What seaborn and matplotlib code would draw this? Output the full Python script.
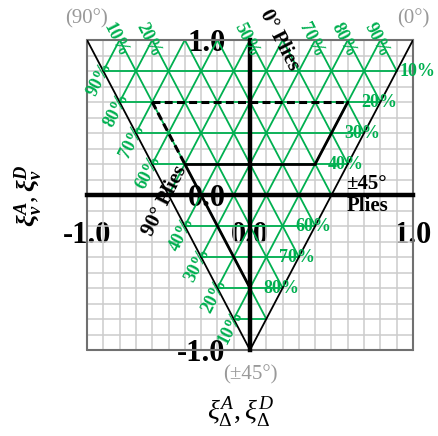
import numpy as np
import pandas as pd
import matplotlib
matplotlib.use("Agg")
import matplotlib.pyplot as plt
import seaborn as sns

# Constant ply-fraction levels (percent) used for the triangular mesh
mesh_pcts = [10, 20, 30, 40, 50, 60, 70, 80, 90]

# Which mesh lines carry a percentage label
top_label_pcts = [10, 20, 50, 70, 80, 90]            # 0° fraction, along the top edge
left_label_pcts = [90, 80, 70, 60, 40, 30, 20, 10]   # 90° fraction, along the 90°/±45° edge
right_label_pcts = [10, 20, 30, 40, 60, 70, 80]      # ±45° fraction, along the 0°/±45° edge

# Design-window boundaries, each end given as ply fractions (0°, 90°, ±45°) in percent
dashed_bounds = [((10, 70, 20), (70, 10, 20)),
                 ((10, 70, 20), (10, 50, 40))]
solid_bounds = [((10, 50, 40), (50, 10, 40)),
                ((50, 10, 40), (70, 10, 20)),
                ((10, 50, 40), (10, 10, 80))]

# Corner laminates of the feasible triangle (0°, 90°, ±45°)
corners = [(0, 100, 0), (100, 0, 0), (0, 0, 100)]
corner_names = ["(90°)", "(0°)", "(±45°)"]

tick_vals = [-1, 0, 1]
tick_text = ["-1.0", "0.0", "1.0"]

GREEN = "#00B050"
GREY = "#999999"


def lam(f0, f90, f45):
    """In-plane/bending lamination parameters for a balanced 0/90/±45 laminate."""
    return (f0 - f90) / 100.0, 1.0 - 2.0 * f45 / 100.0


def seg_frame(segments):
    rows = []
    for i, (a, b) in enumerate(segments):
        for p in (a, b):
            x, y = lam(*p)
            rows.append({"seg": i, "x": x, "y": y})
    return pd.DataFrame(rows)


sns.set_theme(style="white")
plt.rcParams["font.family"] = ["Liberation Serif", "DejaVu Sans"]
plt.rcParams["text.color"] = "black"
plt.rcParams["axes.labelcolor"] = "black"
plt.rcParams["xtick.color"] = "black"
plt.rcParams["ytick.color"] = "black"
plt.rcParams["mathtext.fontset"] = "custom"
plt.rcParams["mathtext.rm"] = "Liberation Serif"
plt.rcParams["mathtext.it"] = "Liberation Serif:italic"
plt.rcParams["mathtext.bf"] = "Liberation Serif:bold"
plt.rcParams["mathtext.bfit"] = "Liberation Serif:bold:italic"

fig = plt.figure(figsize=(4.38, 4.36), dpi=100)
ax = fig.add_axes([87 / 438, 1 - 350 / 436, 326 / 438, 310 / 436])

# Centred black axes through the origin, grey frame around the square
for side in ("left", "bottom"):
    ax.spines[side].set_position("zero")
    ax.spines[side].set_color("black")
    ax.spines[side].set_linewidth(3.2)
    ax.spines[side].set_zorder(4)
for side in ("top", "right"):
    ax.spines[side].set_color("#707070")
    ax.spines[side].set_linewidth(1.5)
for xs, ys in (([-1, -1], [-1, 1]), ([-1, 1], [-1, -1])):
    ax.plot(xs, ys, color="#707070", lw=1.5, clip_on=False, zorder=1.5)

# Mesh: constant ±45°, constant 0° and constant 90° fraction lines
mesh = []
for p in mesh_pcts:
    mesh.append(((0, 100 - p, p), (100 - p, 0, p)))
    mesh.append(((p, 100 - p, 0), (p, 0, 100 - p)))
    mesh.append(((100 - p, p, 0), (0, p, 100 - p)))
sns.lineplot(data=seg_frame(mesh), x="x", y="y", units="seg", estimator=None,
             sort=False, color=GREEN, lw=1.3, ax=ax, zorder=2)

# Triangle edges
edges = [(corners[0], corners[2]), (corners[1], corners[2])]
sns.lineplot(data=seg_frame(edges), x="x", y="y", units="seg", estimator=None,
             sort=False, color="black", lw=1.3, ax=ax, zorder=3)

# Design-window boundaries
sns.lineplot(data=seg_frame(dashed_bounds), x="x", y="y", units="seg", estimator=None,
             sort=False, color="black", lw=2.2, ax=ax, zorder=3)
for line in ax.get_lines()[-len(dashed_bounds):]:
    line.set_dashes((2.6, 1.4))
sns.lineplot(data=seg_frame(solid_bounds), x="x", y="y", units="seg", estimator=None,
             sort=False, color="black", lw=2.0, ax=ax, zorder=3)

# Limits, ticks and the light grid
ax.set_xlim(-1, 1)
ax.set_ylim(-1, 1)
ax.set_xticks(tick_vals)
ax.set_yticks(tick_vals)
ax.set_xticks(np.arange(-1, 1.01, 0.1), minor=True)
ax.set_yticks(np.arange(-1, 1.01, 0.1), minor=True)
ax.tick_params(which="minor", length=0)
ax.tick_params(which="major", direction="out", length=3.5, width=2.5,
               color="black", labelcolor="black")
ax.tick_params(axis="x", which="major", pad=15)
ax.tick_params(axis="y", which="major", pad=14)
ax.set_xticklabels(tick_text, fontsize=22, fontweight="bold", color="black")
ax.set_yticklabels(tick_text, fontsize=22, fontweight="bold", color="black")
ax.grid(which="both", color="#cccccc", lw=1.1)
ax.set_axisbelow(True)

# Percentage labels on the mesh
for p in top_label_pcts:
    x, y = lam(p, 100 - p, 0)
    ax.text(x - 0.025, y, f"{p}%", color=GREEN, fontsize=13, fontweight="bold",
            rotation=-63, ha="center", va="center", rotation_mode="anchor",
            clip_on=False, zorder=5)
for p in left_label_pcts:
    x, y = lam(0, p, 100 - p)
    ax.text(x - 0.02, y - 0.05, f"{p}%", color=GREEN, fontsize=13, fontweight="bold",
            rotation=63, ha="center", va="center", rotation_mode="anchor", zorder=5)
for p in right_label_pcts:
    x, y = lam(100 - p, 0, p)
    shift = 0.13 if p == 10 else -0.01
    ax.text(x + shift, y, f"{p}%", color=GREEN, fontsize=13, fontweight="bold",
            ha="center", va="center", clip_on=False, zorder=5)

# Ply-axis names
x, y = lam(60, 40, 0)
ax.text(x - 0.02, y, "0° Plies", color="black", fontsize=15, fontweight="bold",
        rotation=-63, ha="center", va="center", rotation_mode="anchor",
        clip_on=False, zorder=6)
x, y = lam(0, 50, 50)
ax.text(x - 0.02, y - 0.04, "90° Plies", color="black", fontsize=15, fontweight="bold",
        rotation=63, ha="center", va="center", rotation_mode="anchor", zorder=6)
x, y = lam(50, 0, 50)
ax.text(x + 0.09, y, "±45°\nPlies", color="black", fontsize=15, fontweight="bold",
        ha="left", va="center", linespacing=1.15, zorder=6)

# Corner laminates
for (f0, f90, f45), name in zip(corners, corner_names):
    x, y = lam(f0, f90, f45)
    dy = 0.14 if y > 0 else -0.16
    ax.text(x, y + dy, name, color=GREY, fontsize=15, ha="center", va="center",
            clip_on=False)

ax.set_xlabel(r"$\xi_{\Delta}^{A},\xi_{\Delta}^{D}$", fontsize=20, va="center",
              color="black")
ax.xaxis.set_label_coords(0.47, -0.2)
ax.set_ylabel(r"$\mathbfit{\xi}_{\mathbfit{\nu}}^{\mathbfit{A}},\mathbfit{\xi}_{\mathbfit{\nu}}^{\mathbfit{D}}$",
              fontsize=19, va="center", ha="center", color="black")
ax.yaxis.set_label_coords(-0.178, 0.497)

fig.savefig("out.png", dpi=100)
